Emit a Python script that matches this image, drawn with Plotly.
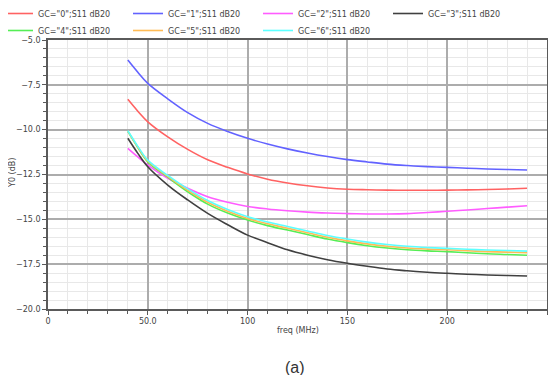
import plotly.graph_objects as go

freq = [40, 45, 50, 60, 70, 80, 90, 100, 110, 120, 130, 140, 150, 160, 170, 180, 190, 200, 210, 220, 230, 240]
gc0 = [-8.31, -8.97, -9.56, -10.4, -11.1, -11.68, -12.1, -12.47, -12.76, -12.97, -13.13, -13.25, -13.32, -13.35,
       -13.37, -13.38, -13.38, -13.37, -13.36, -13.34, -13.31, -13.27]
gc1 = [-6.12, -6.8, -7.42, -8.28, -9.05, -9.65, -10.1, -10.48, -10.8, -11.07, -11.3, -11.5, -11.67, -11.8,
       -11.92, -12.0, -12.06, -12.1, -12.15, -12.19, -12.22, -12.25]
gc2 = [-11.04, -11.52, -11.97, -12.71, -13.27, -13.74, -14.05, -14.28, -14.42, -14.52, -14.6, -14.65, -14.68, -14.7,
       -14.7, -14.68, -14.62, -14.55, -14.48, -14.4, -14.32, -14.24]
gc3 = [-10.48, -11.32, -12.07, -13.09, -13.92, -14.67, -15.3, -15.88, -16.3, -16.7, -17.0, -17.25, -17.45, -17.62,
       -17.77, -17.87, -17.95, -18.01, -18.06, -18.1, -18.13, -18.16]
gc4 = [-10.1, -11.0, -11.8, -12.65, -13.46, -14.15, -14.65, -15.04, -15.35, -15.6, -15.85, -16.1, -16.3, -16.47,
       -16.6, -16.7, -16.76, -16.8, -16.86, -16.92, -16.96, -17.0]
gc5 = [-10.08, -10.97, -11.75, -12.6, -13.38, -14.05, -14.55, -14.95, -15.25, -15.5, -15.75, -16.0, -16.2, -16.37,
       -16.5, -16.6, -16.66, -16.7, -16.75, -16.8, -16.83, -16.86]
gc6 = [-10.06, -10.93, -11.7, -12.55, -13.3, -13.95, -14.45, -14.85, -15.15, -15.4, -15.65, -15.9, -16.1, -16.27,
       -16.4, -16.5, -16.57, -16.62, -16.67, -16.71, -16.74, -16.77]

names = ['GC="0";S11 dB20', 'GC="1";S11 dB20', 'GC="2";S11 dB20', 'GC="3";S11 dB20',
         'GC="4";S11 dB20', 'GC="5";S11 dB20', 'GC="6";S11 dB20']
series = [gc0, gc1, gc2, gc3, gc4, gc5, gc6]
colors = ['#ff6262', '#6262ff', '#ff5cff', '#404040', '#55ee55', '#ffbb55', '#5cffff']
legend_ids = ['legend', 'legend', 'legend', 'legend', 'legend2', 'legend2', 'legend2']

x_tickvals = [0, 50, 100, 150, 200, 250]
x_ticktext = ['0', '50.0', '100', '150', '200', '250']
y_tickvals = [-5, -7.5, -10, -12.5, -15, -17.5, -20]

W, H = 540, 367  # page body has an 8px margin
L, T, B = 40, 32, 66
PW, PH = W - L - 1, H - T - B


def px_x(fx):
    return (fx - L) / PW


def px_y(fy):
    return (T + PH - fy) / PH


fig = go.Figure()
for nm, ys, c, lg in zip(names, series, colors, legend_ids):
    fig.add_trace(go.Scatter(x=freq, y=ys, name=nm, mode='lines', legend=lg,
                             line=dict(color=c, width=1.6, shape='spline', smoothing=1.0)))

txt = dict(family='DejaVu Sans', size=8, color='#444444')
leg_common = dict(orientation='h', xref='paper', yref='paper',
                  xanchor='left', yanchor='top',
                  entrywidth=85, entrywidthmode='pixels', itemwidth=30,
                  font=txt, bgcolor='rgba(0,0,0,0)')
axis_common = dict(showline=True, linecolor='#5a5a5a', linewidth=1.6, mirror=True,
                   ticks='outside', ticklen=4, tickcolor='#5a5a5a',
                   showgrid=True, gridcolor='#acacac', gridwidth=1.5,
                   zeroline=False, tickfont=txt)
fig.update_layout(
    width=W, height=H,
    margin=dict(l=L, r=1, t=T, b=B, autoexpand=False),
    paper_bgcolor='white', plot_bgcolor='white',
    font=txt,
    legend=dict(x=px_x(-10), y=px_y(6 - 15), **leg_common),
    legend2=dict(x=px_x(-10), y=px_y(23 - 15), **leg_common),
    xaxis=dict(range=[0, 250], tickvals=x_tickvals, ticktext=x_ticktext,
               minor=dict(dtick=10, showgrid=True, gridcolor='#e8e8e8', gridwidth=1,
                          ticks='outside', ticklen=3, tickcolor='#5a5a5a'),
               **axis_common),
    yaxis=dict(range=[-20, -5], tickvals=y_tickvals, tickformat='.1f',
               minor=dict(dtick=0.5, showgrid=True, gridcolor='#e8e8e8', gridwidth=1,
                          ticks='outside', ticklen=3, tickcolor='#5a5a5a'),
               **axis_common),
)
fig.add_annotation(text='freq (MHz)', xref='paper', yref='paper', x=0.5, y=px_y(322),
                   xanchor='center', yanchor='middle', showarrow=False, font=txt)
fig.add_annotation(text='Y0 (dB)', xref='paper', yref='paper', x=px_x(4), y=px_y(165),
                   xanchor='center', yanchor='middle', showarrow=False, textangle=-90, font=txt)
fig.add_annotation(text='(a)', xref='paper', yref='paper', x=px_x(286.5), y=px_y(359),
                   xanchor='center', yanchor='middle', showarrow=False,
                   font=dict(family='Liberation Sans', size=16, color='#333333'))
fig.write_html('out.html')
